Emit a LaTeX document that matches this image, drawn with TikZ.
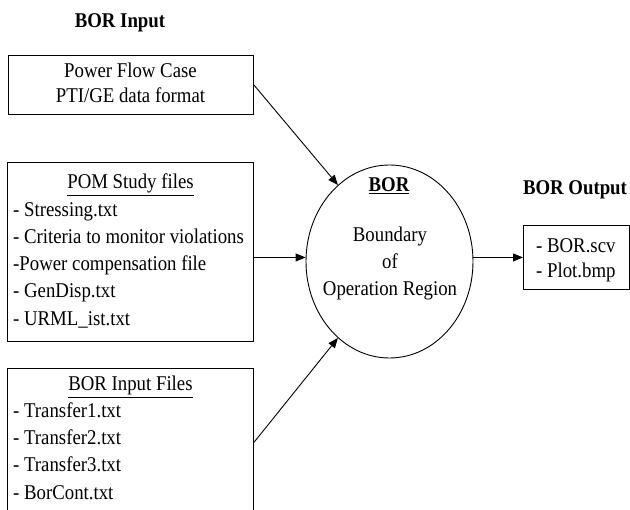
\documentclass[tikz,border=0pt]{standalone}
\usepackage{fontspec}
\setmainfont[FakeStretch=0.895]{Liberation Serif}
\usetikzlibrary{shapes.geometric,arrows.meta}
\begin{document}
\begin{tikzpicture}[x=1pt,y=-1pt,
  every node/.style={font=\fontsize{21}{27}\selectfont},
  box/.style={draw,line width=0.9pt,rectangle,inner sep=0pt,anchor=north west},
  txt/.style={anchor=base,inner sep=0pt},
  ltxt/.style={anchor=base west,inner sep=0pt},
  hdr/.style={anchor=base,inner sep=0pt,font=\fontsize{21}{27}\selectfont\bfseries},
  arr/.style={line width=0.9pt,-{Triangle[length=10pt,width=8pt]}}]
\useasboundingbox (0,0) rectangle (630,510);
% headers
\node[hdr] (hin) at (120,28) {BOR Input};
\node[hdr] (hout) at (575,195) {BOR Output};
% box 1
\node[box,minimum width=245pt,minimum height=59pt] (b1) at (8,55) {};
\node[txt] (b1a) at (130.5,78) {Power Flow Case};
\node[txt] (b1b) at (130.5,103) {PTI/GE data format};
% box 2
\node[box,minimum width=246pt,minimum height=179pt] (b2) at (7,162) {};
\node[txt] (b2h) at (130.5,189) {\underline{POM Study files}};
\node[ltxt] (b2a) at (13,217) {- Stressing.txt};
\node[ltxt] (b2b) at (13,244) {- Criteria to monitor violations};
\node[ltxt] (b2c) at (13,271) {-Power compensation file};
\node[ltxt] (b2d) at (13,298) {- GenDisp.txt};
\node[ltxt] (b2e) at (13,326) {- URML\_ist.txt};
% box 3
\node[box,minimum width=246pt,minimum height=148pt] (b3) at (7,368) {};
\node[txt] (b3h) at (130.5,391) {\underline{BOR Input Files}};
\node[ltxt] (b3a) at (13,418) {- Transfer1.txt};
\node[ltxt] (b3b) at (13,445) {- Transfer2.txt};
\node[ltxt] (b3c) at (13,472) {- Transfer3.txt};
\node[ltxt] (b3d) at (13,500) {- BorCont.txt};
% ellipse
\node[draw,ellipse,line width=0.9pt,minimum width=167pt,minimum height=193pt,inner sep=0pt] (bor) at (389.5,261.5) {};
\node[hdr] (borh) at (389,192) {\underline{BOR}};
\node[txt] (bor1) at (390,242) {Boundary};
\node[txt] (bor2) at (390,269) {of};
\node[txt] (bor3) at (390,296) {Operation Region};
% output
\node[box,minimum width=106pt,minimum height=64pt] (out) at (523,225) {};
\node[ltxt] (o1) at (536,253) {- BOR.scv};
\node[ltxt] (o2) at (536,278) {- Plot.bmp};
% arrows
\draw[arr] (b1.east) -- (bor.124);
\draw[arr] ([yshift=-5.5pt]b2.east) -- ([yshift=-5.5pt]b2.east -| bor.west);
\draw[arr] (b3.east) -- (bor.236);
\draw[arr] (out.west -| bor.east) -- (out.west);
\end{tikzpicture}
\end{document}
